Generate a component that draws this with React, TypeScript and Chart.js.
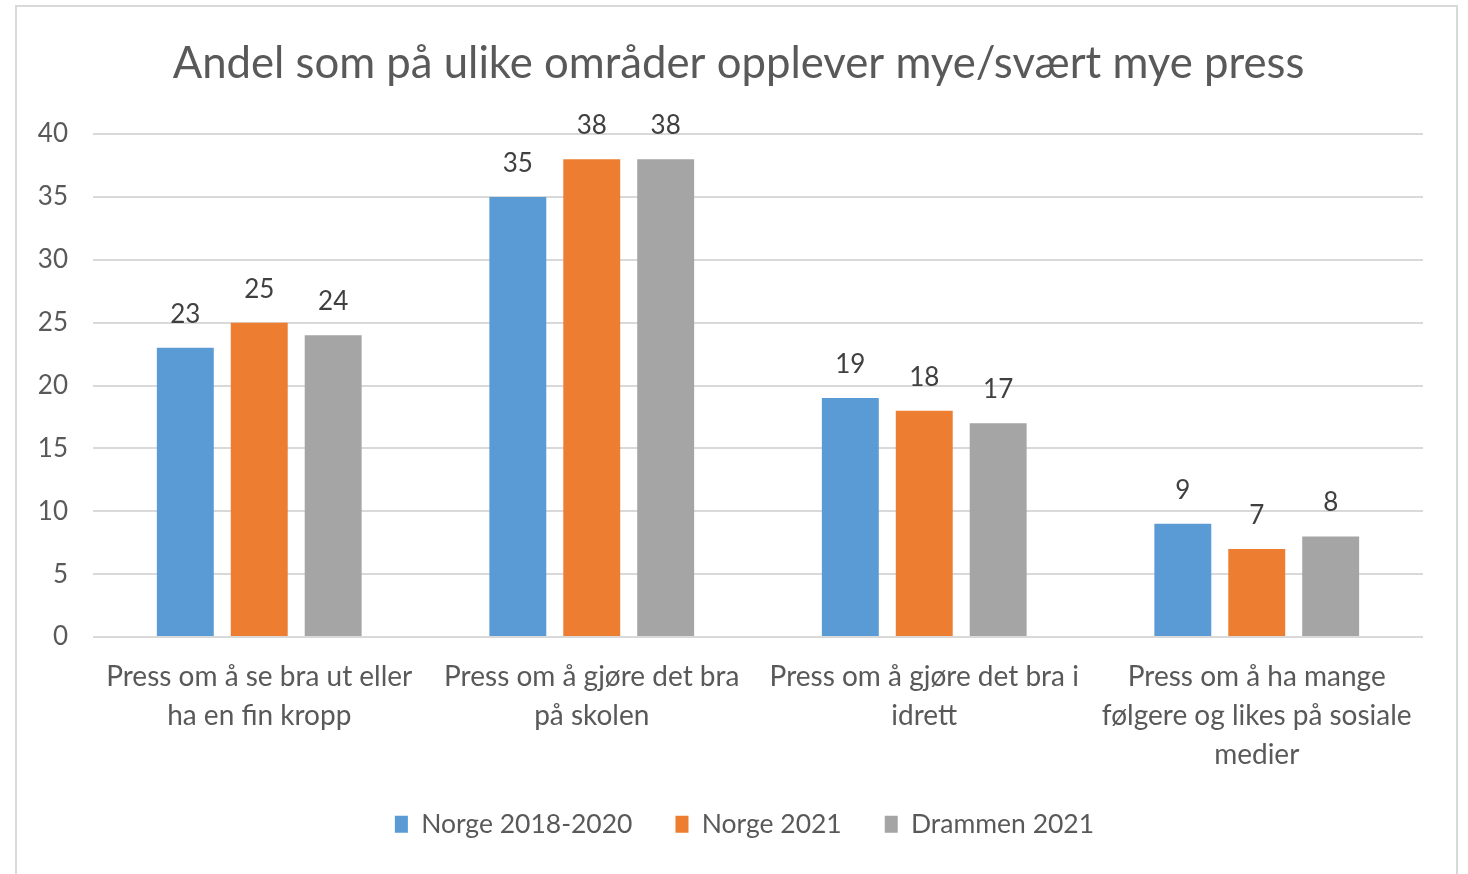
import React, { useEffect, useRef } from "react";
import { Chart, registerables } from "chart.js";

Chart.register(...registerables);

const TITLE = "Andel som på ulike områder opplever mye/svært mye press";
const categories: string[][] = [
  ["Press om å se bra ut eller", "ha en fin kropp"],
  ["Press om å gjøre det bra", "på skolen"],
  ["Press om å gjøre det bra i", "idrett"],
  ["Press om å ha mange", "følgere og likes på sosiale", "medier"],
];
const seriesNames = ["Norge 2018-2020", "Norge 2021", "Drammen 2021"];
const norge1820 = [23, 35, 19, 9];
const norge2021 = [25, 38, 18, 7];
const drammen2021 = [24, 38, 17, 8];
const colors = ["#5B9BD5", "#ED7D31", "#A5A5A5"];
const yTicks = { min: 0, max: 40, step: 5 };

const FONT = "Lato";
const W = 1468;
const H = 900;

const framePlugin = {
  id: "frame",
  afterLayout(chart: any) {
    if (chart.legend) {
      chart.legend.left += 33;
      chart.legend.right += 33;
    }
  },
  beforeDraw(chart: any) {
    const ctx = chart.ctx;
    ctx.save();
    ctx.fillStyle = "#ffffff";
    ctx.fillRect(0, 0, chart.width, chart.height);
    ctx.strokeStyle = "#D9D9D9";
    ctx.lineWidth = 2;
    ctx.strokeRect(16, 6, 1441, 950);
    ctx.fillStyle = "#595959";
    ctx.font = `43.7px ${FONT}`;
    ctx.textAlign = "center";
    ctx.textBaseline = "middle";
    ctx.fillText(TITLE, 738.5, 64);
    ctx.restore();
  },
};

const dataLabelPlugin = {
  id: "dataLabels",
  afterDatasetsDraw(chart: any) {
    const ctx = chart.ctx;
    ctx.save();
    ctx.font = `26px ${FONT}`;
    ctx.fillStyle = "#404040";
    ctx.textAlign = "center";
    ctx.textBaseline = "alphabetic";
    chart.data.datasets.forEach((ds: any, i: number) => {
      const meta = chart.getDatasetMeta(i);
      meta.data.forEach((bar: any, j: number) => {
        ctx.fillText(String(ds.data[j]), bar.x, bar.y - 25);
      });
    });
    ctx.restore();
  },
};

export default function App() {
  const ref = useRef<HTMLCanvasElement | null>(null);
  useEffect(() => {
    if (!ref.current) return;
    const datasets = [norge1820, norge2021, drammen2021].map((d, i) => ({
      label: seriesNames[i],
      data: d,
      backgroundColor: colors[i],
      borderWidth: 0,
      categoryPercentage: 0.667,
      barPercentage: 0.77,
    }));
    const chart = new Chart(ref.current, {
      type: "bar",
      data: { labels: categories, datasets },
      plugins: [framePlugin, dataLabelPlugin],
      options: {
        responsive: false,
        animation: false,
        devicePixelRatio: 1,
        layout: { padding: { left: 0, right: 45, top: 134, bottom: 52.5 } },
        plugins: {
          title: { display: false },
          legend: {
            position: "bottom",
            labels: {
              color: "#595959",
              font: { family: FONT, size: 26.5 },
              boxWidth: 13,
              boxHeight: 17,
              padding: 43,
            },
          },
          tooltip: { enabled: false },
        },
        scales: {
          x: {
            grid: { display: false, drawTicks: false },
            border: { display: false },
            ticks: {
              color: "#595959",
              font: { family: FONT, size: 28, lineHeight: 39 / 28 },
              padding: 20,
              maxRotation: 0,
              autoSkip: false,
            },
            afterFit(scale: any) {
              scale.height = 131;
            },
          },
          y: {
            min: yTicks.min,
            max: yTicks.max,
            grid: { color: "#D9D9D9", lineWidth: 2, drawTicks: false },
            border: { display: false },
            ticks: {
              stepSize: yTicks.step,
              color: "#595959",
              font: { family: FONT, size: 26 },
              padding: 25,
            },
            afterFit(scale: any) {
              scale.width = 93;
            },
          },
        },
      } as any,
    });
    return () => chart.destroy();
  }, []);
  return (
    <canvas
      ref={ref}
      width={W}
      height={H}
      style={{ position: "fixed", left: 0, top: 0, width: W, height: H }}
    />
  );
}
